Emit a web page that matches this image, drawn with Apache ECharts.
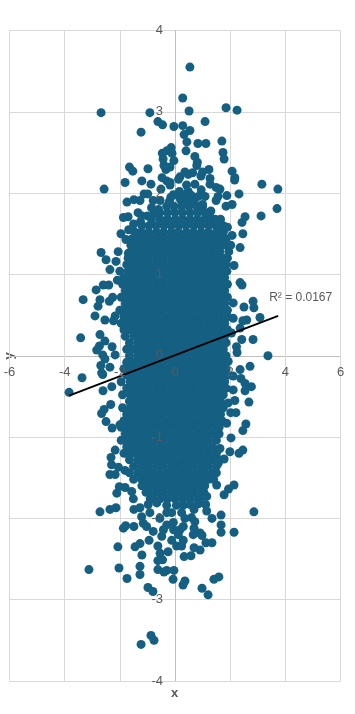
<!DOCTYPE html>
<html>
<head>
<meta charset="utf-8">
<style>
  html, body { margin: 0; padding: 0; background: #fff; }
  #chart { width: 355px; height: 714px; }
</style>
<script src="https://cdn.jsdelivr.net/npm/echarts@6/dist/echarts.min.js"></script>
</head>
<body>
<div id="chart"></div>
<script>
// scattered points
const topPoints = [
  [0.54,3.55],[0.28,3.17],[-2.68,2.99],[-0.91,2.99],[0.51,3.01],[1.85,3.05],[2.25,3.02],[1.09,2.88],
  [-0.62,2.88],[-0.45,2.84],[-0.04,2.82],[0.28,2.83],[0.54,2.77],[-1.23,2.75],[0.33,2.72],[0.43,2.63],
  [1.70,2.64],[0.83,2.61],[1.12,2.61],[-0.14,2.56],[0.40,2.52],[-0.30,2.52],[-0.46,2.49],[-0.11,2.49],
  [1.74,2.50],[-0.43,2.42],[1.78,2.42],[0.72,2.45],[-0.04,2.40],[0.81,2.38],[0.79,2.34],[-0.40,2.34],
  [-0.18,2.32],[-0.33,2.29],[-1.65,2.32],[-1.53,2.27],[-0.98,2.30],[1.23,2.29],[2.07,2.27],[1.00,2.26],
  [0.94,2.21],[0.36,2.26],[0.64,2.25],[0.48,2.23],[0.18,2.20],[0.13,2.17],[-0.47,2.19],[-0.30,2.15],
  [-0.18,2.13],[-0.18,2.10],[2.17,2.19],[2.16,2.16],[1.27,2.18],[1.27,2.11],[-1.81,2.13],[-1.20,2.15],
  [-0.87,2.11],[-2.57,2.05],[3.15,2.11],[3.73,2.05],[1.49,2.07],[1.63,2.05],[0.72,2.11],[0.42,2.10],
  [0.95,2.04],[-0.51,2.05],[0.16,2.02],[-0.06,1.98],[0.48,2.02],[0.85,1.96],[1.09,1.96],[1.88,1.97],
  [2.32,1.99],[1.56,1.96],[1.49,1.91],[1.85,1.84],[2.07,1.86],[3.70,1.81],[3.12,1.72],[2.54,1.71],
  [2.43,1.64],[2.46,1.50],[2.07,1.48],[-1.12,1.99],[-0.99,1.99],[-1.74,1.89],[-1.49,1.92],[-1.27,1.91],
  [-0.79,1.91],[-0.54,1.91],[-0.85,1.82],[-1.34,1.76],[-1.87,1.70],[-1.70,1.71],[-1.68,1.55],[-1.96,1.50],
  [-1.78,1.43],[0.20,1.92],[0.45,1.90],[0.70,1.88],[-0.20,1.90],[-0.15,1.95],[0.10,1.98],[0.35,1.98],
  [0.60,1.97],[-1.25,1.65],[-1.00,1.72],[-1.50,1.62],[-1.20,1.72],[-0.75,1.75],[1.65,1.68],[1.75,1.60],
  [1.90,1.58],[1.30,1.78],[1.00,1.86],[-0.60,1.80]
];
const leftPoints = [
  [-2.68,1.27],[-2.50,1.18],[-2.14,1.16],[-2.36,1.06],[-2.06,1.28],[-1.69,1.26],[-2.00,1.04],[-2.86,0.81],
  [-2.60,0.87],[-2.40,0.87],[-2.09,0.93],[-3.33,0.69],[-2.72,0.69],[-2.79,0.61],[-2.38,0.67],[-2.26,0.72],
  [-2.90,0.49],[-2.54,0.44],[-2.17,0.49],[-2.23,0.43],[-3.42,0.22],[-2.72,0.26],[-2.54,0.18],[-2.84,0.07],
  [-2.74,0.12],[-2.28,0.11],[-2.62,0.01],[-2.54,-0.04],[-2.17,0.01],[-2.69,-0.12],[-2.36,-0.14],[-2.66,-0.21],
  [-3.37,-0.27],[-2.62,-0.23],[-3.84,-0.45],[-2.61,-0.43],[-2.29,-0.38],[-2.66,-0.71],[-2.57,-0.66],[-2.33,-0.60],
  [-2.50,-0.81],[-2.28,-0.89],[-2.00,-0.85],[-2.17,-1.16],[-2.32,-1.25],[-2.30,-1.34],[-2.05,-1.37],[-2.36,-1.46],
  [-2.17,-1.46],[-1.81,-1.41]
];
const rightPoints = [
  [2.36,1.33],[2.02,1.36],[2.14,1.11],[1.88,1.04],[2.36,0.90],[2.43,0.87],[2.11,0.65],[2.83,0.67],
  [2.50,0.60],[2.86,0.59],[3.08,0.47],[2.60,0.44],[2.46,0.43],[2.11,0.46],[2.36,0.34],[2.42,0.20],
  [2.83,0.20],[2.05,0.28],[2.23,0.11],[2.25,0.04],[3.37,0.00],[1.93,-0.07],[2.72,-0.13],[2.36,-0.17],
  [2.11,-0.25],[2.39,-0.28],[2.54,-0.34],[2.77,-0.38],[2.54,-0.43],[2.11,-0.42],[2.68,-0.57],[2.17,-0.55],
  [1.93,-0.58],[2.02,-0.70],[2.21,-0.70],[2.57,-0.84],[2.46,-0.92],[1.87,-0.83],[2.03,-1.01],[1.63,-1.14],
  [1.51,-1.16],[1.99,-1.18],[2.46,-1.16],[2.32,-1.20],[1.78,-1.27],[1.57,-1.32],[1.45,-1.44]
];
const bottomPoints = [
  [2.14,-1.59],[1.94,-1.64],[1.78,-1.71],[1.51,-1.59],[-2.72,-1.92],[-2.36,-1.89],[-2.14,-1.87],[-2.11,-1.69],
  [-2.02,-1.61],[-1.81,-1.62],[-1.57,-1.67],[-1.51,-1.76],[-1.49,-1.89],[-1.27,-1.87],[2.86,-1.92],[1.67,-1.96],
  [1.34,-2.00],[1.67,-2.08],[1.67,-2.17],[2.14,-2.17],[0.69,-1.89],[1.15,-1.91],[1.11,-1.83],[1.15,-1.73],
  [0.60,-1.99],[0.72,-2.04],[0.69,-2.12],[0.66,-2.20],[0.91,-2.18],[0.98,-2.21],[1.12,-2.30],[1.34,-2.30],
  [0.69,-2.36],[0.91,-2.39],[0.58,-2.46],[0.33,-2.47],[-1.87,-2.12],[-1.79,-2.09],[-1.49,-2.10],[-2.07,-2.35],
  [-1.45,-2.35],[-1.27,-2.31],[-0.94,-2.27],[-0.62,-2.34],[-1.20,-2.45],[-0.54,-2.43],[-0.25,-2.41],[-0.62,-2.52],
  [-0.45,-2.51],[-2.03,-2.61],[-3.12,-2.63],[-1.27,-2.59],[-1.27,-2.69],[-1.74,-2.74],[-0.62,-2.63],[-0.40,-2.66],
  [-0.30,-2.64],[-0.04,-2.64],[-0.07,-2.75],[0.36,-2.77],[0.29,-2.82],[1.59,-2.72],[1.41,-2.75],[0.98,-2.86],
  [1.20,-2.94],[-0.98,-2.85],[-0.80,-2.90],[-0.87,-3.44],[-0.76,-3.50],[-1.23,-3.55],[-0.97,-1.83],[-0.66,-1.81],
  [-0.91,-1.93],[-1.21,-1.98],[-1.15,-2.06],[-1.03,-2.10],[-0.79,-2.16],[-0.48,-2.22],[-0.42,-2.14],[-0.12,-1.93],
  [0.24,-1.93],[0.18,-2.14],[0.12,-2.20],[-0.12,-2.27],[0.30,-2.27],[0.06,-2.34],[0.24,-2.34],[0.36,-2.00],
  [-0.06,-2.05],[-0.30,-1.93],[0.05,-1.84],[0.30,-1.84],[-0.30,-1.84],[0.55,-1.83],[0.85,-1.82],[-0.55,-2.00],
  [-0.30,-2.08],[-0.05,-2.14],[0.30,-2.10]
];

// the solid middle: single points can't be told apart here, so these are
// estimates that follow its outline, one y with its x values per row
const coreRows = [
  [1.84,[-0.30,-0.04,0.23,0.50,0.78,1.00]],
  [1.76,[-0.55,-0.27,0.00,0.27,0.55,0.82,1.08,1.20]],
  [1.68,[-0.85,-0.54,-0.27,0.01,0.27,0.54,0.81,1.08,1.35,1.45]],
  [1.60,[-1.20,-0.94,-0.68,-0.40,-0.14,0.14,0.40,0.68,0.94,1.22,1.48,1.60]],
  [1.52,[-1.45,-1.22,-0.95,-0.67,-0.41,-0.13,0.13,0.41,0.67,0.95,1.21,1.49,1.75]],
  [1.44,[-1.55,-1.35,-1.08,-0.81,-0.54,-0.27,0.00,0.27,0.54,0.81,1.08,1.35,1.62,1.85]],
  [1.36,[-1.60,-1.48,-1.21,-0.94,-0.68,-0.41,-0.14,0.13,0.40,0.68,0.94,1.22,1.49,1.75,1.90]],
  [1.28,[-1.60,-1.35,-1.08,-0.81,-0.54,-0.27,0.00,0.27,0.54,0.81,1.08,1.35,1.62,1.95]],
  [1.20,[-1.70,-1.49,-1.22,-0.95,-0.67,-0.41,-0.13,0.14,0.41,0.67,0.95,1.21,1.48,1.75,1.90]],
  [1.12,[-1.75,-1.62,-1.35,-1.08,-0.81,-0.54,-0.27,0.00,0.27,0.54,0.81,1.08,1.35,1.62,1.85]],
  [1.04,[-1.70,-1.48,-1.21,-0.94,-0.68,-0.41,-0.14,0.13,0.40,0.68,0.94,1.22,1.49,1.75,1.85]],
  [0.96,[-1.85,-1.62,-1.35,-1.08,-0.81,-0.54,-0.27,0.00,0.27,0.54,0.81,1.08,1.35,1.62,1.80]],
  [0.88,[-1.90,-1.75,-1.49,-1.22,-0.95,-0.67,-0.41,-0.13,0.14,0.41,0.67,0.95,1.21,1.48,1.75,1.90]],
  [0.80,[-1.80,-1.62,-1.35,-1.08,-0.81,-0.54,-0.27,0.00,0.27,0.54,0.81,1.08,1.35,1.62,1.80]],
  [0.72,[-1.95,-1.75,-1.48,-1.21,-0.94,-0.68,-0.41,-0.14,0.13,0.40,0.68,0.94,1.22,1.49,1.75,1.90]],
  [0.64,[-1.80,-1.62,-1.35,-1.08,-0.81,-0.54,-0.27,0.00,0.27,0.54,0.81,1.08,1.35,1.62,1.80]],
  [0.56,[-2.00,-1.75,-1.49,-1.22,-0.95,-0.67,-0.41,-0.13,0.14,0.41,0.67,0.95,1.21,1.48,1.75,1.90]],
  [0.48,[-1.85,-1.62,-1.35,-1.08,-0.81,-0.54,-0.27,0.00,0.27,0.54,0.81,1.08,1.35,1.62,1.90]],
  [0.40,[-1.95,-1.75,-1.48,-1.21,-0.94,-0.68,-0.41,-0.14,0.13,0.40,0.68,0.94,1.22,1.49,1.75,1.80]],
  [0.32,[-1.85,-1.62,-1.35,-1.08,-0.81,-0.54,-0.27,0.00,0.27,0.54,0.81,1.08,1.35,1.62,1.90]],
  [0.24,[-1.80,-1.49,-1.22,-0.95,-0.67,-0.41,-0.13,0.14,0.41,0.67,0.95,1.21,1.48,1.75,1.80]],
  [0.16,[-1.65,-1.35,-1.08,-0.81,-0.54,-0.27,0.00,0.27,0.54,0.81,1.08,1.35,1.62,1.85]],
  [0.08,[-1.75,-1.48,-1.21,-0.94,-0.68,-0.41,-0.14,0.13,0.40,0.68,0.94,1.22,1.49,1.75]],
  [0.00,[-1.65,-1.35,-1.08,-0.81,-0.54,-0.27,0.00,0.27,0.54,0.81,1.08,1.35,1.62,1.85]],
  [-0.08,[-1.75,-1.49,-1.22,-0.95,-0.67,-0.41,-0.13,0.14,0.41,0.67,0.95,1.21,1.48,1.75,1.80]],
  [-0.16,[-1.85,-1.62,-1.35,-1.08,-0.81,-0.54,-0.27,0.00,0.27,0.54,0.81,1.08,1.35,1.62,1.85]],
  [-0.24,[-1.75,-1.48,-1.21,-0.94,-0.68,-0.41,-0.14,0.13,0.40,0.68,0.94,1.22,1.49,1.75,1.90]],
  [-0.32,[-1.95,-1.62,-1.35,-1.08,-0.81,-0.54,-0.27,0.00,0.27,0.54,0.81,1.08,1.35,1.62,1.80]],
  [-0.40,[-1.75,-1.49,-1.22,-0.95,-0.67,-0.41,-0.13,0.14,0.41,0.67,0.95,1.21,1.48,1.75,1.85]],
  [-0.48,[-1.90,-1.62,-1.35,-1.08,-0.81,-0.54,-0.27,0.00,0.27,0.54,0.81,1.08,1.35,1.62,1.75]],
  [-0.56,[-1.65,-1.48,-1.21,-0.94,-0.68,-0.41,-0.14,0.13,0.40,0.68,0.94,1.22,1.49,1.65]],
  [-0.64,[-1.90,-1.62,-1.35,-1.08,-0.81,-0.54,-0.27,0.00,0.27,0.54,0.81,1.08,1.35,1.62,1.75]],
  [-0.72,[-1.75,-1.49,-1.22,-0.95,-0.67,-0.41,-0.13,0.14,0.41,0.67,0.95,1.21,1.48,1.65]],
  [-0.80,[-1.85,-1.62,-1.35,-1.08,-0.81,-0.54,-0.27,0.00,0.27,0.54,0.81,1.08,1.35,1.62,1.70]],
  [-0.88,[-1.95,-1.75,-1.48,-1.21,-0.94,-0.68,-0.41,-0.14,0.13,0.40,0.68,0.94,1.22,1.49,1.60]],
  [-0.96,[-1.80,-1.62,-1.35,-1.08,-0.81,-0.54,-0.27,0.00,0.27,0.54,0.81,1.08,1.35,1.60]],
  [-1.04,[-1.95,-1.75,-1.49,-1.22,-0.95,-0.67,-0.41,-0.13,0.14,0.41,0.67,0.95,1.21,1.50]],
  [-1.12,[-1.75,-1.62,-1.35,-1.08,-0.81,-0.54,-0.27,0.00,0.27,0.54,0.81,1.08,1.35]],
  [-1.20,[-1.85,-1.75,-1.48,-1.21,-0.94,-0.68,-0.41,-0.14,0.13,0.40,0.68,0.94,1.22,1.50]],
  [-1.28,[-1.65,-1.35,-1.08,-0.81,-0.54,-0.27,0.00,0.27,0.54,0.81,1.08,1.35,1.60]],
  [-1.36,[-1.50,-1.22,-0.95,-0.67,-0.41,-0.13,0.14,0.41,0.67,0.95,1.21,1.50]],
  [-1.44,[-1.65,-1.35,-1.08,-0.81,-0.54,-0.27,0.00,0.27,0.54,0.81,1.08,1.35,1.50]],
  [-1.52,[-1.50,-1.21,-0.94,-0.68,-0.41,-0.14,0.13,0.40,0.68,0.94,1.22,1.40]],
  [-1.60,[-1.20,-1.08,-0.81,-0.54,-0.27,0.00,0.27,0.54,0.81,1.08]],
  [-1.68,[-1.05,-0.95,-0.67,-0.41,-0.13,0.14,0.41,0.67,0.95,1.05]],
  [-1.76,[-0.90,-0.81,-0.54,-0.27,0.00,0.27,0.54,0.81,0.90]]
];

// trendline ends and the note on it
const trendLine = [[-3.84,-0.49],[3.74,0.49]];
const trendNote = "R\u00b2 = 0.0167";

const corePoints = [];
coreRows.forEach(([y, xs]) => xs.forEach(x => corePoints.push([x, y])));
const allPoints = [...corePoints, ...topPoints, ...leftPoints, ...rightPoints, ...bottomPoints];

const grey = "#595959";
const font = "'Liberation Sans', Arial, sans-serif";
const lineGrey = "#d9d9d9";
const zeroGrey = "#bfbfbf";

// two axes per direction: the first holds the grid lines under the points,
// the second only the labels, moved in to the zero lines and over the points
const labelStyle = { color: grey, fontSize: 13, fontFamily: font, showMinLabel: true, showMaxLabel: true };

const chart = echarts.init(document.getElementById("chart"), null, { renderer: "canvas" });
chart.setOption({
    animation: false,
    grid: { left: 9.5, right: 14.5, top: 30.5, bottom: 33, outerBoundsMode: "none" },
    xAxis: [
        {
            type: "value", min: -6, max: 6, interval: 2, position: "bottom", z: 0,
            axisLine: { show: false }, axisTick: { show: false }, axisLabel: { show: false },
            splitLine: { lineStyle: { color: [lineGrey, lineGrey, lineGrey, zeroGrey, lineGrey, lineGrey, lineGrey], width: 1 } },
        },
        {
            type: "value", min: -6, max: 6, interval: 2, position: "bottom", offset: -325, z: 5,
            axisLine: { show: false }, axisTick: { show: false }, splitLine: { show: false },
            axisLabel: { ...labelStyle, margin: 10 },
        },
    ],
    yAxis: [
        {
            type: "value", min: -4, max: 4, interval: 1, position: "left", z: 0,
            axisLine: { show: false }, axisTick: { show: false }, axisLabel: { show: false },
            splitLine: { lineStyle: { color: [lineGrey, lineGrey, lineGrey, lineGrey, zeroGrey, lineGrey, lineGrey, lineGrey, lineGrey], width: 1 } },
        },
        {
            type: "value", min: -4, max: 4, interval: 1, position: "left", offset: -165.5, z: 5,
            axisLine: { show: false }, axisTick: { show: false }, splitLine: { show: false },
            axisLabel: { ...labelStyle, margin: 12 },
        },
    ],
    graphic: [
        { type: "text", left: 171, top: 687, style: { text: "x", fill: grey, font: "bold 13px " + font } },
        { type: "text", x: 9, y: 356, rotation: Math.PI / 2, style: { text: "y", fill: grey, font: "bold 13px " + font, align: "center", verticalAlign: "middle" } },
    ],
    series: [
        {
            type: "scatter",
            data: allPoints,
            symbolSize: 9,
            itemStyle: { color: "#156082", opacity: 1 },
            z: 2,
        },
        {
            type: "line",
            data: trendLine,
            showSymbol: false,
            symbol: "none",
            lineStyle: { color: "#000", width: 2 },
            endLabel: {
                show: true, formatter: trendNote, position: "top", offset: [-17, -18],
                color: grey, fontSize: 12, fontFamily: font,
            },
            z: 4,
        },
    ],
});
</script>
</body>
</html>
